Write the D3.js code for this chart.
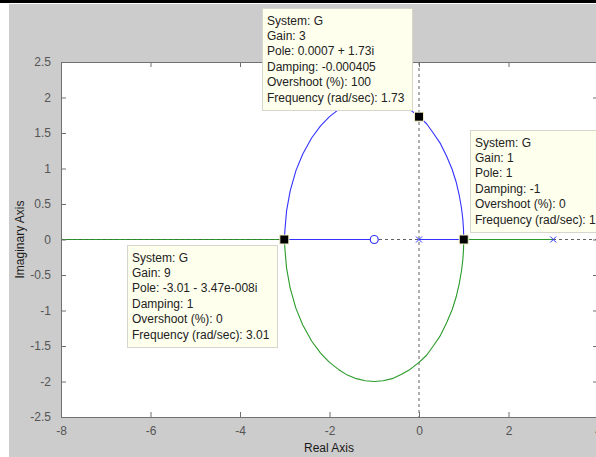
<!DOCTYPE html>
<html>
<head>
<meta charset="utf-8">
<script src="https://cdn.jsdelivr.net/npm/d3@7"></script>
<style>
  html, body { margin: 0; padding: 0; background: #ffffff; }
  svg { display: block; }
  text { font-family: "Liberation Sans", Arial, sans-serif; }
</style>
</head>
<body>
<script>
// Root locus of G(s) = K (s + 1) / (s (s - 3))
const xTicks = [-8, -6, -4, -2, 0, 2, 4];
const yTicks = [2.5, 2, 1.5, 1, 0.5, 0, -0.5, -1, -1.5, -2, -2.5];
const xTickLabels = ["-8", "-6", "-4", "-2", "0", "2", "4"];
const yTickLabels = ["2.5", "2", "1.5", "1", "0.5", "0", "-0.5", "-1", "-1.5", "-2", "-2.5"];

const openLoopPoles = [[0, 0], [3, 0]];
const openLoopZeros = [[-1, 0]];

// branch 1 (starts at pole 0, upper arc, ends at zero -1)
const branchBlue = [
  [0, 0], [1, 0], [0.995, 0.14], [0.98, 0.28], [0.95, 0.44], [0.9, 0.62],
  [0.83, 0.81], [0.74, 0.99], [0.62, 1.17], [0.48, 1.35], [0.33, 1.49],
  [0.17, 1.63], [0.0007, 1.73], [-0.2, 1.83], [-0.4, 1.9], [-0.6, 1.96],
  [-0.8, 1.99], [-1, 2.0], [-1.2, 1.99], [-1.4, 1.96], [-1.6, 1.91],
  [-1.8, 1.83], [-2.0, 1.73], [-2.2, 1.6], [-2.4, 1.43], [-2.6, 1.2],
  [-2.75, 0.97], [-2.88, 0.68], [-2.96, 0.4], [-2.995, 0.14], [-3.01, 0],
  [-1, 0]
];
// branch 2 (starts at pole 3, lower arc, goes to -infinity)
const branchGreen = [
  [3, 0], [1, 0], [0.995, -0.14], [0.98, -0.28], [0.95, -0.44], [0.9, -0.62],
  [0.83, -0.81], [0.74, -0.99], [0.62, -1.17], [0.48, -1.35], [0.33, -1.49],
  [0.17, -1.63], [0.0007, -1.73], [-0.2, -1.83], [-0.4, -1.9], [-0.6, -1.96],
  [-0.8, -1.99], [-1, -2.0], [-1.2, -1.99], [-1.4, -1.96], [-1.6, -1.91],
  [-1.8, -1.83], [-2.0, -1.73], [-2.2, -1.6], [-2.4, -1.43], [-2.6, -1.2],
  [-2.75, -0.97], [-2.88, -0.68], [-2.96, -0.4], [-2.995, -0.14], [-3.01, 0],
  [-8, 0]
];

// data tips
const tipPoints = [[0.0007, 1.73], [1, 0], [-3.01, 0]];
const tipGain = ["3", "1", "9"];
const tipPole = ["0.0007 + 1.73i", "1", "-3.01 - 3.47e-008i"];
const tipDamping = ["-0.000405", "-1", "1"];
const tipOvershoot = ["100", "0", "0"];
const tipFrequency = ["1.73", "1", "3.01"];

const W = 596, H = 457;
const svg = d3.select("body").append("svg").attr("width", W).attr("height", H);

// figure background
svg.append("rect").attr("x", 0).attr("y", 0).attr("width", W).attr("height", H).attr("fill", "#ffffff");
svg.append("rect").attr("x", 9).attr("y", 4).attr("width", W - 9).attr("height", H - 4).attr("fill", "#cccccc");
svg.append("rect").attr("x", 0).attr("y", 0).attr("width", W).attr("height", 3).attr("fill", "#000000");

const x = d3.scaleLinear().domain([-8, 4]).range([61, 598]);
const y = d3.scaleLinear().domain([-2.5, 2.5]).range([417, 62]);

// plot area
svg.append("rect").attr("x", x(-8)).attr("y", y(2.5))
  .attr("width", x(4) - x(-8)).attr("height", y(-2.5) - y(2.5)).attr("fill", "#ffffff");

const axisColor = "#707070";
const labelColor = "#555555";
const tickLen = 5;

const xAxisB = d3.axisBottom(x).tickValues(xTicks).tickSizeInner(-tickLen).tickSizeOuter(0)
  .tickPadding(9).tickFormat((d, i) => xTickLabels[i]);
const xAxisT = d3.axisTop(x).tickValues(xTicks).tickSizeInner(-tickLen).tickSizeOuter(0).tickFormat("");
const yAxisL = d3.axisLeft(y).tickValues(yTicks).tickSizeInner(-tickLen).tickSizeOuter(0)
  .tickPadding(10).tickFormat((d, i) => yTickLabels[i]);
const yAxisR = d3.axisRight(y).tickValues(yTicks).tickSizeInner(-tickLen).tickSizeOuter(0).tickFormat("");

function styleAxis(g) {
  g.select(".domain").attr("stroke", axisColor);
  g.selectAll(".tick line").attr("stroke", axisColor);
  g.selectAll(".tick text").attr("fill", labelColor)
    .style("font-size", "12px").style("font-family", "'Liberation Sans', Arial, sans-serif");
}

// zero-axis dashed guide lines
const guides = svg.append("g").attr("stroke", "#606060").attr("stroke-width", 1)
  .attr("stroke-dasharray", "3,3");
guides.append("line").attr("x1", x(-8)).attr("x2", x(4)).attr("y1", y(0)).attr("y2", y(0));
guides.append("line").attr("x1", x(0)).attr("x2", x(0)).attr("y1", y(2.5)).attr("y2", y(-2.5));

// locus branches
const line = d3.line().x(d => x(d[0])).y(d => y(d[1]));
svg.append("path").datum(branchGreen).attr("d", line)
  .attr("fill", "none").attr("stroke", "#2a9a2a").attr("stroke-width", 1.1)
  .attr("stroke-linejoin", "round");
svg.append("path").datum(branchBlue).attr("d", line)
  .attr("fill", "none").attr("stroke", "#3333ff").attr("stroke-width", 1.1)
  .attr("stroke-linejoin", "round");

// dashes over the far-left green segment
svg.append("line").attr("x1", x(-8)).attr("x2", x(-3.01)).attr("y1", y(0)).attr("y2", y(0))
  .attr("stroke", "#444444").attr("stroke-width", 1).attr("stroke-dasharray", "3,3").attr("opacity", 0.35);

// poles (x) and zeros (o)
const s = 3;
svg.selectAll(".pole").data(openLoopPoles).enter().append("path").attr("class", "pole")
  .attr("d", d => `M${x(d[0]) - s},${y(d[1]) - s}L${x(d[0]) + s},${y(d[1]) + s}M${x(d[0]) - s},${y(d[1]) + s}L${x(d[0]) + s},${y(d[1]) - s}`)
  .attr("stroke", "#3333ff").attr("stroke-width", 1).attr("fill", "none");
svg.selectAll(".zero").data(openLoopZeros).enter().append("circle").attr("class", "zero")
  .attr("cx", d => x(d[0])).attr("cy", d => y(d[1])).attr("r", 4)
  .attr("stroke", "#3333ff").attr("stroke-width", 1.2).attr("fill", "#ffffff");

// axes
svg.append("g").attr("transform", `translate(0,${y(-2.5)})`).call(xAxisB).call(styleAxis);
svg.append("g").attr("transform", `translate(0,${y(2.5)})`).call(xAxisT).call(styleAxis);
svg.append("g").attr("transform", `translate(${x(-8)},0)`).call(yAxisL).call(styleAxis);
svg.append("g").attr("transform", `translate(${x(4)},0)`).call(yAxisR).call(styleAxis);

// axis titles
svg.append("text").attr("x", 329).attr("y", 452).attr("text-anchor", "middle")
  .style("font-size", "12px").attr("fill", "#1a1a1a").text("Real Axis");
svg.append("text").attr("transform", `translate(24,${y(0)}) rotate(-90)`).attr("text-anchor", "middle")
  .style("font-size", "12px").attr("fill", "#1a1a1a").text("Imaginary Axis");

// data tip markers
svg.selectAll(".tipmark").data(tipPoints).enter().append("rect").attr("class", "tipmark")
  .attr("x", d => x(d[0]) - 4.5).attr("y", d => y(d[1]) - 4.5).attr("width", 9).attr("height", 9)
  .attr("fill", "#000000").attr("stroke", "#f3f0c8").attr("stroke-width", 1);

// data tip boxes
const boxPos = [[262, 8], [470, 130], [127, 245]];
const boxW = [150, 150, 150];
tipPoints.forEach((p, i) => {
  const g = svg.append("g").attr("transform", `translate(${boxPos[i][0]},${boxPos[i][1]})`);
  g.append("rect").attr("x", 0.5).attr("y", 0.5).attr("width", boxW[i]).attr("height", 102)
    .attr("fill", "#ffffee").attr("stroke", "#d6d6cc").attr("stroke-width", 1);
  const lines = [
    "System: G",
    "Gain: " + tipGain[i],
    "Pole: " + tipPole[i],
    "Damping: " + tipDamping[i],
    "Overshoot (%): " + tipOvershoot[i],
    "Frequency (rad/sec): " + tipFrequency[i]
  ];
  g.selectAll("text").data(lines).enter().append("text")
    .attr("x", 5).attr("y", (d, j) => 16.5 + j * 15.4)
    .style("font-size", "12px").attr("fill", "#222222").text(d => d);
});
</script>
</body>
</html>
